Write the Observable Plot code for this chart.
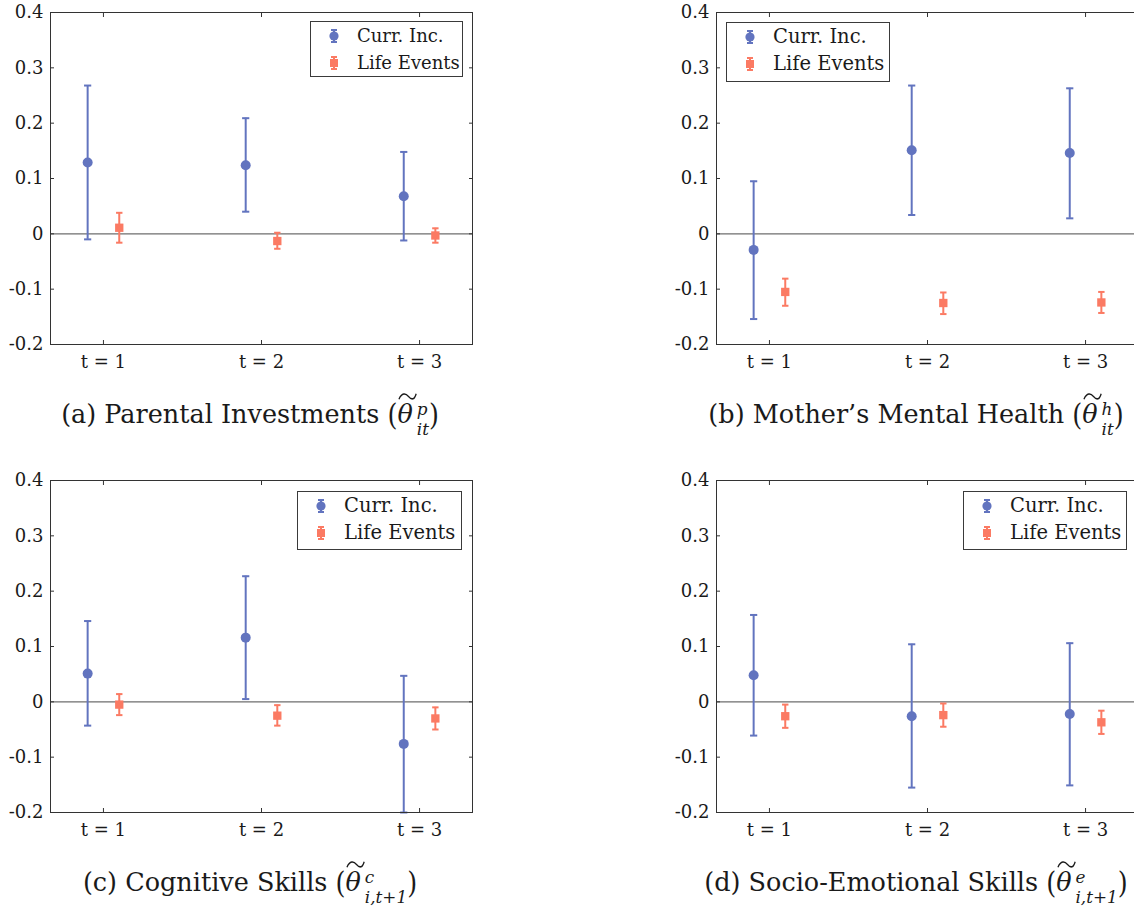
<!DOCTYPE html>
<html>
<head>
<meta charset="utf-8">
<script src="https://cdn.jsdelivr.net/npm/d3@7"></script>
<script src="https://cdn.jsdelivr.net/npm/@observablehq/plot@0.6"></script>
<style>
  html, body { margin: 0; padding: 0; background: #fff; }
  body { width: 1134px; height: 909px; overflow: hidden; position: relative; font-family: "DejaVu Serif", serif; color: #1a1a1a; }
  .panel { position: absolute; width: 500px; height: 440px; }
  .panel > svg { position: absolute; left: 0; top: 0; overflow: visible; font-family: "DejaVu Serif", serif !important; }
  .panel > svg text { font-family: "DejaVu Serif", serif !important; font-size: 18px; fill: #1a1a1a; }
  .legend { position: absolute; box-sizing: border-box; border: 1px solid #3a3a3a; background: #fff; font-size: 19px; }
  .legend .row { display: flex; align-items: center; height: 27px; }
  .legend .row svg { position: static; margin-left: 16px; margin-right: 16px; flex: none; }
  .caption { position: absolute; left: 0; width: 500px; text-align: center; font-size: 25.5px; line-height: 30px; top: 399px; white-space: nowrap; }
  .acc { position: relative; display: inline-block; font-style: italic; }
  .acc svg.tl { position: absolute; left: 0.02em; top: -0.3em; width: 0.75em; height: 0.35em; overflow: visible; }
  .paren { font-style: normal; display: inline-block; transform: scaleY(1.2); }
  .scripts { display: inline-flex; flex-direction: column; vertical-align: 0.5em; font-size: 0.66em; line-height: 1.2; font-style: italic; margin-left: 4px; text-align: left; }
</style>
</head>
<body>
<script>
// ---------- data ----------
const periods = [1, 2, 3];
const periodLabels = ["t = 1", "t = 2", "t = 3"];
const seriesNames = ["Curr. Inc.", "Life Events"];
const yTicks = [-0.2, -0.1, 0, 0.1, 0.2, 0.3, 0.4];
const yTickLabels = ["-0.2", "-0.1", "0", "0.1", "0.2", "0.3", "0.4"];

// (a) Parental Investments
const invIncEst = [0.129, 0.124, 0.068];
const invIncLo  = [-0.010, 0.040, -0.012];
const invIncHi  = [0.268, 0.209, 0.148];
const invLifeEst = [0.011, -0.013, -0.003];
const invLifeLo  = [-0.016, -0.027, -0.016];
const invLifeHi  = [0.038, 0.002, 0.010];

// (b) Mother's Mental Health
const mhIncEst = [-0.029, 0.151, 0.146];
const mhIncLo  = [-0.154, 0.034, 0.028];
const mhIncHi  = [0.095, 0.268, 0.263];
const mhLifeEst = [-0.105, -0.125, -0.124];
const mhLifeLo  = [-0.130, -0.145, -0.143];
const mhLifeHi  = [-0.081, -0.106, -0.105];

// (c) Cognitive Skills
const cogIncEst = [0.051, 0.116, -0.076];
const cogIncLo  = [-0.043, 0.005, -0.200];
const cogIncHi  = [0.146, 0.227, 0.047];
const cogLifeEst = [-0.005, -0.025, -0.030];
const cogLifeLo  = [-0.024, -0.043, -0.050];
const cogLifeHi  = [0.014, -0.006, -0.010];

// (d) Socio-Emotional Skills
const seIncEst = [0.048, -0.026, -0.022];
const seIncLo  = [-0.061, -0.155, -0.151];
const seIncHi  = [0.157, 0.104, 0.106];
const seLifeEst = [-0.026, -0.024, -0.037];
const seLifeLo  = [-0.047, -0.045, -0.058];
const seLifeHi  = [-0.005, -0.003, -0.016];

const captionLabels = ["(a) Parental Investments", "(b) Mother\u2019s Mental Health", "(c) Cognitive Skills", "(d) Socio-Emotional Skills"];
const captionSup = ["p", "h", "c", "e"];
const captionSub = ["it", "it", "i,t+1", "i,t+1"];

// ---------- styling ----------
const BLUE = "#6274bf";
const ORANGE = "#fb7a63";
const FRAME = "#333333";
const ZERO = "#6e6e6e";
const OFFSET = 0.1;

const panels = [
  {inc: [invIncEst, invIncLo, invIncHi], life: [invLifeEst, invLifeLo, invLifeHi], left: 0, top: 0, legend: {left: 310, top: 21, width: 153, height: 56, font: 18}},
  {inc: [mhIncEst, mhIncLo, mhIncHi], life: [mhLifeEst, mhLifeLo, mhLifeHi], left: 666, top: 0, legend: {left: 60, top: 22, width: 164, height: 60, font: 19.5}},
  {inc: [cogIncEst, cogIncLo, cogIncHi], life: [cogLifeEst, cogLifeLo, cogLifeHi], left: 0, top: 468, legend: {left: 297, top: 23, width: 165, height: 59, font: 19.5}},
  {inc: [seIncEst, seIncLo, seIncHi], life: [seLifeEst, seLifeLo, seLifeHi], left: 666, top: 468, legend: {left: 297, top: 23, width: 164, height: 59, font: 19.5}}
];

function capSymbol() {
  return { draw(context, size) { const r = Math.sqrt(size / Math.PI); context.moveTo(-r, 0); context.lineTo(r, 0); } };
}

function rowsFor(arrs, sign) {
  const [est, lo, hi] = arrs;
  return periods.map((t, i) => ({t, x: t + sign * OFFSET, est: est[i], lo: lo[i], hi: hi[i]}));
}

function legendSymbol(color, kind) {
  const ns = "http://www.w3.org/2000/svg";
  const s = document.createElementNS(ns, "svg");
  s.setAttribute("width", 14); s.setAttribute("height", 18);
  const path = document.createElementNS(ns, "path");
  path.setAttribute("d", "M7,3V15M4,3H10M4,15H10");
  path.setAttribute("stroke", color); path.setAttribute("stroke-width", 2); path.setAttribute("fill", "none");
  s.appendChild(path);
  if (kind === "circle") {
    const c = document.createElementNS(ns, "circle");
    c.setAttribute("cx", 7); c.setAttribute("cy", 9); c.setAttribute("r", 4.6); c.setAttribute("fill", color);
    s.appendChild(c);
  } else {
    const r = document.createElementNS(ns, "rect");
    r.setAttribute("x", 3); r.setAttribute("y", 5); r.setAttribute("width", 8); r.setAttribute("height", 8); r.setAttribute("fill", color);
    s.appendChild(r);
  }
  return s;
}

panels.forEach((p, k) => {
  const incRows = rowsFor(p.inc, -1);
  const lifeRows = rowsFor(p.life, +1);

  const chart = Plot.plot({
    width: 480,
    height: 380,
    marginLeft: 50,
    marginRight: 8,
    marginTop: 12,
    marginBottom: 36,
    style: "font-family: 'DejaVu Serif', serif; font-size: 18px; color: #1a1a1a; background: transparent; overflow: visible;",
    x: {domain: [0.665, 3.335]},
    y: {domain: [-0.2, 0.4]},
    marks: [
      Plot.ruleY([0], {stroke: ZERO, strokeWidth: 1.2}),
      // Curr. Inc.
      Plot.ruleX(incRows, {x: "x", y1: "lo", y2: "hi", stroke: BLUE, strokeWidth: 2}),
      Plot.dot(incRows, {x: "x", y: "hi", symbol: capSymbol(), r: 3.6, stroke: BLUE, strokeWidth: 2, fill: "none"}),
      Plot.dot(incRows, {x: "x", y: "lo", symbol: capSymbol(), r: 3.6, stroke: BLUE, strokeWidth: 2, fill: "none"}),
      Plot.dot(incRows, {x: "x", y: "est", symbol: "circle", r: 5, fill: BLUE, stroke: "none"}),
      // Life Events
      Plot.ruleX(lifeRows, {x: "x", y1: "lo", y2: "hi", stroke: ORANGE, strokeWidth: 2}),
      Plot.dot(lifeRows, {x: "x", y: "hi", symbol: capSymbol(), r: 3.2, stroke: ORANGE, strokeWidth: 2, fill: "none"}),
      Plot.dot(lifeRows, {x: "x", y: "lo", symbol: capSymbol(), r: 3.2, stroke: ORANGE, strokeWidth: 2, fill: "none"}),
      Plot.dot(lifeRows, {x: "x", y: "est", symbol: "square", r: 4.7, fill: ORANGE, stroke: "none"}),
      Plot.frame({stroke: FRAME, strokeWidth: 1}),
      Plot.axisY({anchor: "left", ticks: yTicks, tickSize: -4, tickPadding: 11, stroke: FRAME, tickFormat: (d) => yTickLabels[yTicks.indexOf(d)] ?? "", label: null}),
      Plot.axisY({anchor: "right", ticks: yTicks, tickSize: -4, stroke: FRAME, tickFormat: () => "", label: null}),
      Plot.axisX({anchor: "bottom", ticks: periods, tickSize: -4, tickPadding: 15, stroke: FRAME, tickFormat: (d) => periodLabels[periods.indexOf(d)] ?? "", label: null}),
      Plot.axisX({anchor: "top", ticks: periods, tickSize: -4, stroke: FRAME, tickFormat: () => "", label: null})
    ]
  });

  const div = document.createElement("div");
  div.className = "panel";
  div.style.left = p.left + "px";
  div.style.top = p.top + "px";
  div.appendChild(chart);

  // legend
  const lg = document.createElement("div");
  lg.className = "legend";
  Object.assign(lg.style, {left: p.legend.left + "px", top: p.legend.top + "px", width: p.legend.width + "px", height: p.legend.height + "px", fontSize: p.legend.font + "px"});
  [[seriesNames[0], BLUE, "circle"], [seriesNames[1], ORANGE, "square"]].forEach(([name, color, kind]) => {
    const row = document.createElement("div");
    row.className = "row";
    row.appendChild(legendSymbol(color, kind));
    const sp = document.createElement("span");
    sp.textContent = name;
    row.appendChild(sp);
    lg.appendChild(row);
  });
  div.appendChild(lg);

  // caption (wide tilde accent drawn as a small path over the theta)
  const cap = document.createElement("div");
  cap.className = "caption";
  cap.innerHTML = `${captionLabels[k]} <span class="paren">(</span><span class="acc">\u03B8<svg class="tl" viewBox="0 0 20 8" preserveAspectRatio="none"><path d="M1,6.5 C4,0.5 8,1 11,4 S17,7.5 19,1.5" fill="none" stroke="#1a1a1a" stroke-width="1.4"/></svg></span><span class="scripts"><span>${captionSup[k]}</span><span>${captionSub[k]}</span></span><span class="paren">)</span>`;
  div.appendChild(cap);

  document.body.appendChild(div);
});
</script>
</body>
</html>
